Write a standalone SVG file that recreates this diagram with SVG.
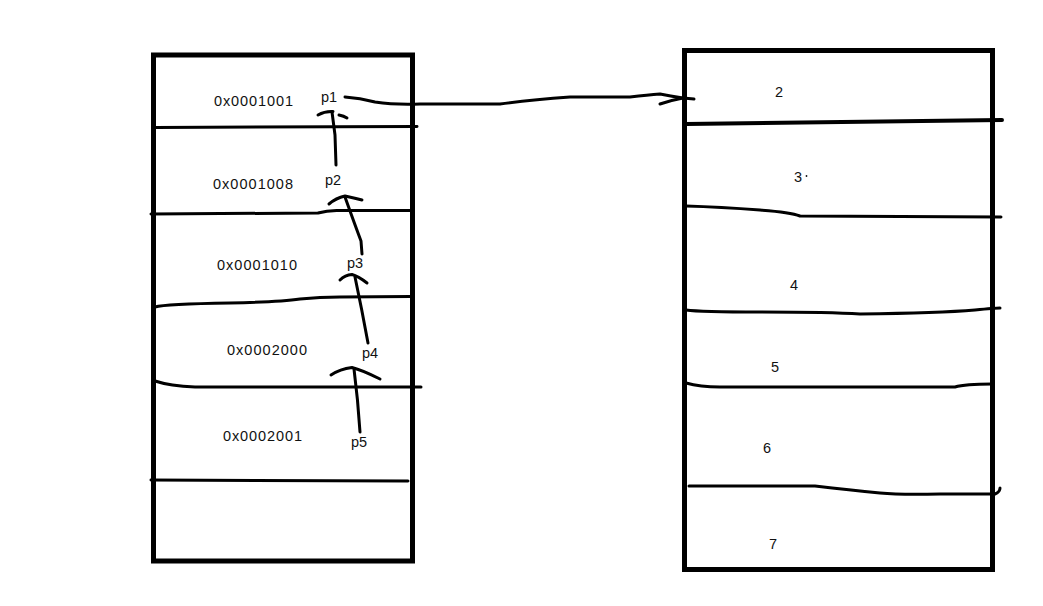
<svg xmlns="http://www.w3.org/2000/svg" width="1043" height="606" viewBox="0 0 1043 606">
<style>
.box{fill:none;stroke:#000;stroke-width:5}
.ln{fill:none;stroke:#000;stroke-width:3;stroke-linecap:round;stroke-linejoin:round}
.thk{stroke-width:4}
.t{font-family:"Liberation Sans",Arial,sans-serif;font-size:14.5px;fill:#111}
</style>
<rect width="1043" height="606" fill="#fff"/>
<g id="left-stack">
<rect class="box" x="153.5" y="55" width="259" height="506"/>
<path class="ln" d="M156 127.5 L417 126.5"/>
<path class="ln" d="M151 214 L318 213 Q328 210 340 210.5 L411 210.5"/>
<path class="ln" d="M155 307 Q165 304 230 303 Q280 302 300 299 Q320 297 340 297 L411 296.5"/>
<path class="ln" d="M155 381 Q170 386 195 387 L421 387"/>
<path class="ln" d="M151 480 L408 481"/>
</g>
<g id="cell-0x0001001"><text class="t" x="214" y="106" textLength="79">0x0001001</text><text class="t" x="321" y="102">p1</text></g>
<g id="cell-0x0001008"><text class="t" x="213" y="189" textLength="80">0x0001008</text><text class="t" x="325" y="185">p2</text></g>
<g id="cell-0x0001010"><text class="t" x="217" y="270" textLength="80">0x0001010</text><text class="t" x="347" y="268">p3</text></g>
<g id="cell-0x0002000"><text class="t" x="227" y="355" textLength="80">0x0002000</text><text class="t" x="362" y="358">p4</text></g>
<g id="cell-0x0002001"><text class="t" x="223" y="441" textLength="79">0x0002001</text><text class="t" x="351" y="447">p5</text></g>
<g id="right-stack">
<rect class="box" x="684.5" y="50.5" width="308" height="519"/>
<path class="ln thk" d="M686 124 L1002 120"/>
<path class="ln" d="M686 206 Q720 207 760 210 Q790 212 800 216 L1001 217"/>
<path class="ln" d="M686 310 Q700 312 760 312 Q830 312 860 314 Q940 313 975 310 Q995 308 1000 308"/>
<path class="ln" d="M686 383 Q700 387 720 387 L955 387 Q965 384 992 384"/>
<path class="ln" d="M689 486 L815 486 Q850 490 880 493 Q900 495 940 494 L995 494 Q1000 492 1000 488"/>
</g>
<g id="val-2"><text class="t" x="775" y="97">2</text></g>
<g id="val-3"><text class="t" x="794" y="182">3</text><circle cx="806.5" cy="176" r="0.9" fill="#111"/></g>
<g id="val-4"><text class="t" x="790" y="290">4</text></g>
<g id="val-5"><text class="t" x="771" y="372">5</text></g>
<g id="val-6"><text class="t" x="763" y="453">6</text></g>
<g id="val-7"><text class="t" x="769" y="549">7</text></g>
<g id="connectors">
<path class="ln" d="M336 165 L335 135 Q333 120 332 112"/>
<path class="ln" d="M318 115 Q325 111 333 111.5"/>
<path class="ln" d="M339 115 Q344 116 347 118"/>
<path class="ln" d="M362 254 L361 241 Q355 225 345 197"/>
<path class="ln" d="M329 204 Q336 198 345 196 Q354 198 362 200"/>
<path class="ln" d="M368 343 Q362 310 355 277"/>
<path class="ln" d="M340 280 Q345 275 352 274.5 Q358 276 367 283"/>
<path class="ln" d="M360 432 Q358 400 354 369"/>
<path class="ln" d="M331 375 Q340 369 352 367.5 Q362 370 380 379"/>
<path class="ln" d="M345 97 Q360 98 375 102 Q395 105 420 104 L500 104 Q530 100 570 97 L630 97 Q648 95 660 94 Q670 96 683 98"/>
<path class="ln" d="M660 104 Q672 100 683 98 L694 99"/>
</g>
</svg>
